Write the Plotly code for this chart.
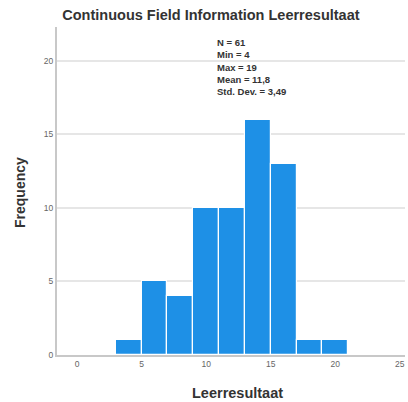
import plotly.graph_objects as go

bin_starts = [3, 5, 7, 9, 11, 13, 15, 17, 19]
bin_width = 2
counts = [1, 5, 4, 10, 10, 16, 13, 1, 1]
x_ticks = [0, 5, 10, 15, 20, 25]
y_ticks = [0, 5, 10, 15, 20]
stats_lines = ["N = 61", "Min = 4", "Max = 19", "Mean = 11,8", "Std. Dev. = 3,49"]

centers = [s + bin_width / 2 for s in bin_starts]

fig = go.Figure()
fig.add_trace(go.Bar(
    x=centers, y=counts, width=[bin_width] * len(counts),
    marker=dict(color="#1e90e6", line=dict(color="white", width=1.2)),
    showlegend=False, hoverinfo="skip",
))

W, H = 408, 402
L, R, T, B = 57, 3, 27, 47

fig.update_layout(
    width=W, height=H,
    margin=dict(l=L, r=R, t=T, b=B),
    paper_bgcolor="white", plot_bgcolor="white",
    font=dict(family="Liberation Sans, Arial, sans-serif"),
    title=dict(text="<b>Continuous Field Information Leerresultaat</b>",
               x=0.517, xref="container", xanchor="center",
               y=1 - 15 / H, yref="container", yanchor="middle",
               font=dict(size=14.5, color="#333333")),
    bargap=0,
)
fig.update_xaxes(range=[-1.55, 25.4], tickvals=x_ticks, ticks="",
                 tickfont=dict(size=8.5, color="#666666"),
                 showgrid=False, zeroline=False,
                 showline=True, linecolor="#c8c8c8", linewidth=2)
fig.update_yaxes(range=[0, 22.3], tickvals=y_ticks, ticks="",
                 tickfont=dict(size=8.5, color="#666666"),
                 showgrid=True, gridcolor="#e6e6e6", gridwidth=1.5,
                 zeroline=False,
                 showline=True, linecolor="#c8c8c8", linewidth=2)

fig.add_annotation(text="<b>" + "<br>".join(stats_lines) + "</b>", xref="paper", yref="paper",
                   x=(215 - L) / (W - L - R), y=(H - B - 35) / (H - T - B),
                   xanchor="left", yanchor="top", align="left", showarrow=False,
                   font=dict(size=9.5, color="#333333", family="Liberation Sans, Arial, sans-serif"))
fig.add_annotation(text="<b>Frequency</b>", xref="paper", yref="paper",
                   x=(20 - L) / (W - L - R), y=(H - B - 193) / (H - T - B),
                   xanchor="center", yanchor="middle", textangle=-90, showarrow=False,
                   font=dict(size=14, color="#333333"))
fig.add_annotation(text="<b>Leerresultaat</b>", xref="paper", yref="paper",
                   x=(238 - L) / (W - L - R), y=(H - B - 393) / (H - T - B),
                   xanchor="center", yanchor="middle", showarrow=False,
                   font=dict(size=14.5, color="#333333"))

fig.write_html("out.html", config={"displayModeBar": False},
               post_script="document.body.style.margin='0';document.body.style.overflow='hidden';")
